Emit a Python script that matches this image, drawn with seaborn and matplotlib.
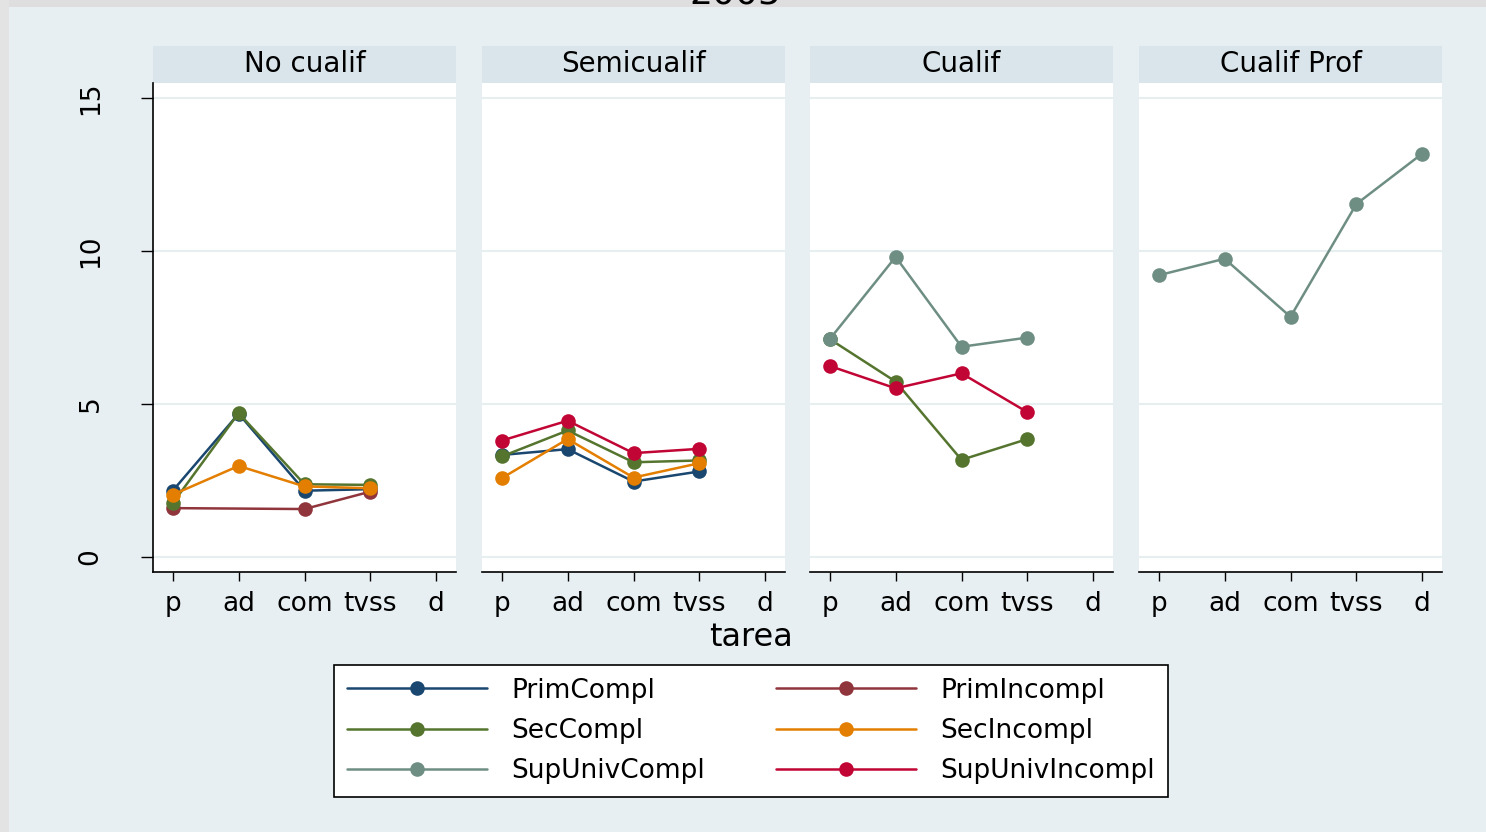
import numpy as np
import pandas as pd
import seaborn as sns
import matplotlib.pyplot as plt
from matplotlib.lines import Line2D
from matplotlib.patches import Rectangle

# --- data -------------------------------------------------------------
tareas = ["p", "ad", "com", "tvss", "d"]
categorias = ["No cualif", "Semicualif", "Cualif", "Cualif Prof"]
niveles = ["PrimCompl", "PrimIncompl", "SecCompl", "SecIncompl",
           "SupUnivCompl", "SupUnivIncompl"]

no_cualif = {
    "PrimCompl":   [2.16, 4.68, 2.16, 2.21, np.nan],
    "PrimIncompl": [1.59, np.nan, 1.56, 2.13, np.nan],
    "SecCompl":    [1.75, 4.70, 2.37, 2.35, np.nan],
    "SecIncompl":  [2.03, 2.97, 2.30, 2.24, np.nan],
}
semicualif = {
    "PrimCompl":      [3.33, 3.52, 2.46, 2.79, np.nan],
    "SecCompl":       [3.28, 4.13, 3.09, 3.15, np.nan],
    "SecIncompl":     [2.57, 3.85, 2.59, 3.06, np.nan],
    "SupUnivIncompl": [3.80, 4.45, 3.39, 3.53, np.nan],
}
cualif = {
    "SecCompl":       [7.12, 5.73, 3.17, 3.85, np.nan],
    "SupUnivCompl":   [7.12, 9.81, 6.87, 7.17, np.nan],
    "SupUnivIncompl": [6.24, 5.51, 6.00, 4.73, np.nan],
}
cualif_prof = {
    "SupUnivCompl": [9.21, 9.75, 7.85, 11.54, 13.19],
}

colores = {
    "PrimCompl": "#1a476f",
    "PrimIncompl": "#90353b",
    "SecCompl": "#55752f",
    "SecIncompl": "#e37e00",
    "SupUnivCompl": "#6e8e84",
    "SupUnivIncompl": "#c10534",
}

# long-form table
filas = []
for cat, series in zip(categorias, [no_cualif, semicualif, cualif, cualif_prof]):
    for educ, vals in series.items():
        for i, v in enumerate(vals):
            filas.append((cat, educ, i, v))
df = pd.DataFrame(filas, columns=["categoria", "educ", "pos", "valor"]).dropna()

# --- figure -----------------------------------------------------------
sns.set_theme(style="white")
plt.rcParams["font.family"] = ["DejaVu Sans"]
plt.rcParams["text.color"] = "black"
plt.rcParams["xtick.color"] = "black"
plt.rcParams["ytick.color"] = "black"
plt.rcParams["axes.labelcolor"] = "black"

W, H = 1486, 832
BG = "#e8eff2"
fig = plt.figure(figsize=(W / 100, H / 100), dpi=100, facecolor=BG)

panel_x = [153, 482, 810, 1139]
panel_w = 303
top_px, bot_px = 83, 572
strip_h = 37
LW, MS = 1.8, 10.5

for k, cat in enumerate(categorias):
    ax = fig.add_axes([panel_x[k] / W, 1 - bot_px / H,
                       panel_w / W, (bot_px - top_px) / H])
    ax.set_facecolor("white")
    sub = df[df["categoria"] == cat]
    orden = [n for n in niveles if n in set(sub["educ"])]
    sns.lineplot(data=sub, x="pos", y="valor", hue="educ", hue_order=orden,
                 palette=colores, marker="o", markersize=MS,
                 markeredgewidth=0, linewidth=LW, errorbar=None,
                 legend=False, ax=ax)

    ax.set_xlim(-0.3, 4.3)
    ax.set_ylim(-0.5, 15.5)
    ax.set_xticks(range(len(tareas)))
    ax.set_xticklabels(tareas)
    ax.set_yticks([0, 5, 10, 15])
    ax.set_axisbelow(True)
    ax.grid(axis="y", color="#e6eef0", linewidth=1.5)
    ax.grid(axis="x", visible=False)
    ax.set_xlabel("")
    ax.set_ylabel("")

    for s in ["top", "right"]:
        ax.spines[s].set_visible(False)
    ax.spines["bottom"].set_color("black")
    ax.spines["bottom"].set_linewidth(1.2)
    if k == 0:
        ax.spines["left"].set_color("black")
        ax.spines["left"].set_linewidth(1.2)
        ax.tick_params(axis="y", left=True, direction="out", length=8.5,
                       width=1, color="black", labelcolor="black", pad=27,
                       labelsize=19, labelrotation=90)
        for lab in ax.get_yticklabels():
            lab.set_va("center")
    else:
        ax.spines["left"].set_visible(False)
        ax.tick_params(axis="y", left=False, labelleft=False)
    ax.tick_params(axis="x", bottom=True, direction="out", length=6.5,
                   width=1, color="black", labelcolor="black", pad=7,
                   labelsize=19)

    # strip header
    ax.add_patch(Rectangle((0, 1), 1, strip_h / (bot_px - top_px),
                           transform=ax.transAxes, clip_on=False,
                           facecolor="#d9e5ea", edgecolor="none"))
    ax.text(0.5, 1 + (strip_h / 2) / (bot_px - top_px), cat,
            transform=ax.transAxes, ha="center", va="center",
            fontsize=20, color="black")

# x title
fig.text(751 / W, 1 - 638 / H, "tarea", ha="center", va="center",
         fontsize=23, color="black")

# legend
orden_leg = ["PrimCompl", "SecCompl", "SupUnivCompl",
             "PrimIncompl", "SecIncompl", "SupUnivIncompl"]
handles = [Line2D([0], [0], color=colores[n], lw=LW, marker="o",
                  markersize=MS, markeredgewidth=0) for n in orden_leg]
leg = fig.legend(handles, orden_leg, ncol=2, loc="upper left",
                 bbox_to_anchor=(334 / W, 1 - 799 / H, (1168 - 334) / W, 134 / H),
                 mode="expand", frameon=True, fancybox=False, fontsize=19,
                 handlelength=5.3, handletextpad=0.95, labelspacing=0.54,
                 borderpad=0.48, borderaxespad=0, edgecolor="black",
                 facecolor="white", framealpha=1)
leg.get_frame().set_linewidth(1.2)
for t in leg.get_texts():
    t.set_color("black")

# outer frame bands and clipped title
fig.add_artist(Rectangle((0, 1 - 7 / H), 1, 7 / H, transform=fig.transFigure,
                         facecolor="#dedede", edgecolor="none", zorder=5))
fig.add_artist(Rectangle((0, 0), 9 / W, 1, transform=fig.transFigure,
                         facecolor="#e3e3e3", edgecolor="none", zorder=5))
fig.text(735 / W, 1 - 4 / H, "2005", ha="center", va="baseline",
         fontsize=26, color="black", zorder=10)

fig.savefig("out.png", dpi=100, facecolor=BG)
